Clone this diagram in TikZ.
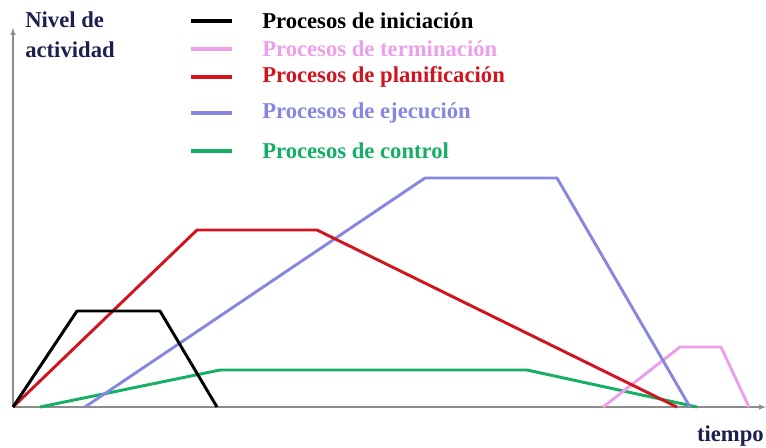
\documentclass[tikz,border=0pt]{standalone}
\usepackage{fontspec}
\setmainfont{Liberation Serif}
\definecolor{inicio}{RGB}{0,0,0}
\definecolor{termino}{RGB}{236,160,236}
\definecolor{plan}{RGB}{210,20,30}
\definecolor{ejec}{RGB}{135,135,225}
\definecolor{ctrl}{RGB}{20,175,100}
\definecolor{ejes}{RGB}{140,140,140}
\definecolor{rotulo}{RGB}{30,30,80}
\tikzset{
  curva/.style={line width=2.2pt, line join=round},
  leyenda/.style={anchor=west, inner sep=0pt, font=\fontsize{17}{19}\selectfont\bfseries}
}

\begin{document}
\begin{tikzpicture}[x=0.75pt,y=-0.75pt]
  \useasboundingbox (0,0) rectangle (766,447);
  % ejes
  \draw[ejes, thick, -latex] (13,407) -- (13,28);
  \draw[ejes, thick, -latex] (13,407) -- (766,407);
  \node[rotulo, anchor=west, inner sep=0pt, align=left, font=\fontsize{17}{22.5}\selectfont\bfseries]
    (nivel) at (25,35) {Nivel de\\actividad};
  \node[rotulo, anchor=east, inner sep=0pt, font=\fontsize{17}{19}\selectfont\bfseries] (tiempo) at (764,436) {tiempo};
  % leyenda
  \foreach \y/\col/\val in {
      21/inicio/Procesos de iniciación,
      49/termino/Procesos de terminación,
      77/plan/Procesos de planificación,
      113/ejec/Procesos de ejecución,
      151/ctrl/Procesos de control%
  } {
    \draw[\col, line width=3pt] (191,\y) -- (232,\y);
    \node[leyenda, text=\col] at (262,\y) {\val};
  }
  % curvas
  \draw[curva, ctrl] (40,407) -- (220,370) -- (527,370) -- (697,407);
  \draw[curva, termino] (603,407) -- (680,347) -- (721,347) -- (749,407);
  \draw[curva, ejec] (85,407) -- (425,178) -- (557,178) -- (690,407);
  \draw[curva, plan] (13,407) -- (197,230) -- (317,230) -- (677,407);
  \draw[curva, inicio] (13,407) -- (77,311) -- (160,311) -- (217,407);
\end{tikzpicture}
\end{document}
